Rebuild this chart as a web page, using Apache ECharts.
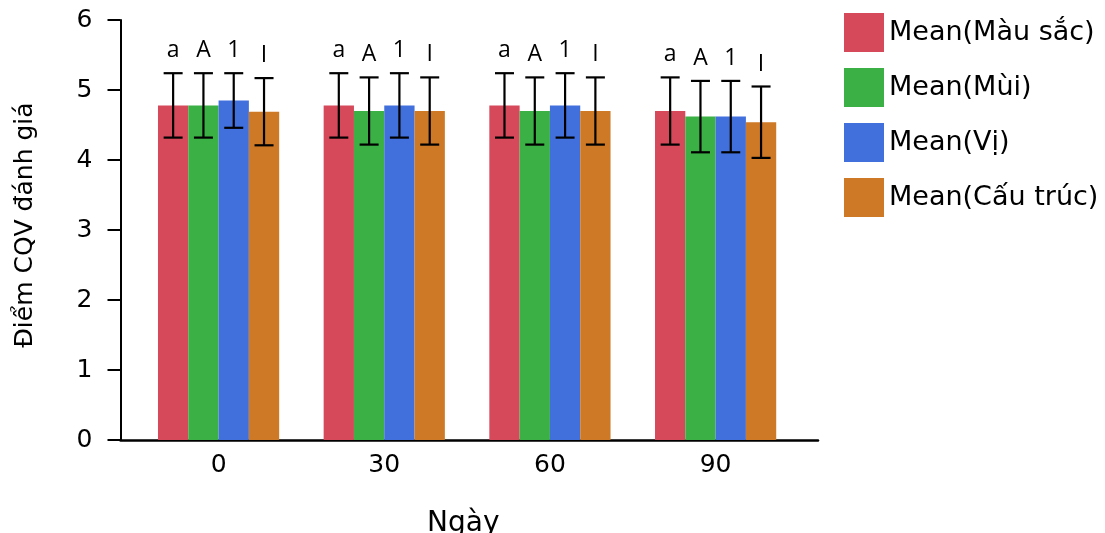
<!DOCTYPE html>
<html>
<head>
<meta charset="utf-8">
<script src="https://cdn.jsdelivr.net/npm/echarts@6/dist/echarts.min.js"></script>
<style>html,body{margin:0;padding:0;background:#fff;}#c{width:1105px;height:533px;}</style>
</head>
<body>
<div id="c"></div>
<script>
var categories = ['0', '30', '60', '90'];
var seriesNames = ['Mean(Màu sắc)', 'Mean(Mùi)', 'Mean(Vị)', 'Mean(Cấu trúc)'];
var mauSac = [4.78, 4.78, 4.78, 4.70];
var mui = [4.78, 4.70, 4.70, 4.62];
var vi = [4.85, 4.78, 4.78, 4.62];
var cauTruc = [4.69, 4.70, 4.70, 4.54];
var sdMauSac = [0.46, 0.46, 0.46, 0.48];
var sdMui = [0.46, 0.48, 0.48, 0.51];
var sdVi = [0.39, 0.46, 0.46, 0.51];
var sdCauTruc = [0.48, 0.48, 0.48, 0.51];
var letters = ['a', 'A', '1', 'I'];
var yTicks = [0, 1, 2, 3, 4, 5, 6];

var means = [mauSac, mui, vi, cauTruc];
var sds = [sdMauSac, sdMui, sdVi, sdCauTruc];
var colors = ['#D6495A', '#3AB045', '#4170DD', '#CE7926'];
var BW = 30.3;
var FONT = '"DejaVu Sans"';

var series = [];
means.forEach(function (arr, s) {
  series.push({
    name: seriesNames[s],
    type: 'bar',
    barWidth: BW,
    barGap: '0%',
    itemStyle: { color: colors[s] },
    data: arr.map(function (v, i) { return [i, v]; }),
    z: 2
  });
});
means.forEach(function (arr, s) {
  var off = (s - 1.5) * BW;
  series.push({
    type: 'custom',
    silent: true,
    z: 5,
    data: arr.map(function (v, i) { return [i, v - sds[s][i], v + sds[s][i]]; }),
    encode: { x: 0, y: [1, 2] },
    renderItem: function (params, api) {
      var lo = api.coord([api.value(0), api.value(1)]);
      var hi = api.coord([api.value(0), api.value(2)]);
      var x = lo[0] + off;
      var cw = 9.5;
      var st = { stroke: '#000', lineWidth: 2.2 };
      return {
        type: 'group',
        children: [
          { type: 'line', shape: { x1: x, y1: lo[1], x2: x, y2: hi[1] }, style: st },
          { type: 'line', shape: { x1: x - cw, y1: lo[1], x2: x + cw, y2: lo[1] }, style: st },
          { type: 'line', shape: { x1: x - cw, y1: hi[1], x2: x + cw, y2: hi[1] }, style: st },
          { type: 'text', style: { text: letters[s], x: x, y: hi[1] - 11, align: 'center', verticalAlign: 'bottom', fontSize: 23, fontFamily: 'Open Sans', fill: '#000' } }
        ]
      };
    }
  });
});

var chart = echarts.init(document.getElementById('c'), null, { renderer: 'canvas' });
chart.setOption({
  animation: false,
  backgroundColor: '#fff',
  grid: { left: 120.5, right: 287, top: 20, bottom: 93, containLabel: false, outerBoundsMode: 'none' },
  legend: {
    orient: 'vertical',
    left: 844,
    top: 13,
    padding: 0,
    itemWidth: 40,
    itemHeight: 39,
    itemGap: 16,
    icon: 'rect',
    data: seriesNames,
    textStyle: { fontFamily: FONT, fontSize: 27, color: '#000' }
  },
  xAxis: {
    type: 'value',
    min: -0.592,
    max: 3.618,
    name: 'Ngày',
    nameLocation: 'middle',
    nameGap: 70,
    nameTextStyle: { fontFamily: FONT, fontSize: 28, color: '#000', padding: [0, 12, 0, 0] },
    splitLine: { show: false },
    axisLine: { show: true, onZero: false, lineStyle: { color: '#000', width: 2.5 } },
    axisTick: { show: false },
    axisLabel: {
      customValues: [0, 1, 2, 3],
      formatter: function (v) { return categories[Math.round(v)]; },
      margin: 13,
      fontFamily: FONT, fontSize: 25, color: '#000'
    }
  },
  yAxis: {
    type: 'value',
    min: 0,
    max: 6,
    interval: 1,
    name: 'Điểm CQV đánh giá',
    nameLocation: 'middle',
    nameGap: 83,
    nameTextStyle: { fontFamily: FONT, fontSize: 25, color: '#000', padding: [0, 0, 0, 10] },
    splitLine: { show: false },
    axisLine: { show: true, onZero: false, lineStyle: { color: '#000', width: 2 } },
    axisTick: { show: true, inside: false, length: 13, lineStyle: { color: '#000', width: 2 } },
    axisLabel: {
      margin: 28,
      formatter: function (v) { return yTicks.indexOf(v) >= 0 ? String(v) : ''; },
      fontFamily: FONT, fontSize: 25, color: '#000'
    }
  },
  series: series
});
</script>
</body>
</html>
